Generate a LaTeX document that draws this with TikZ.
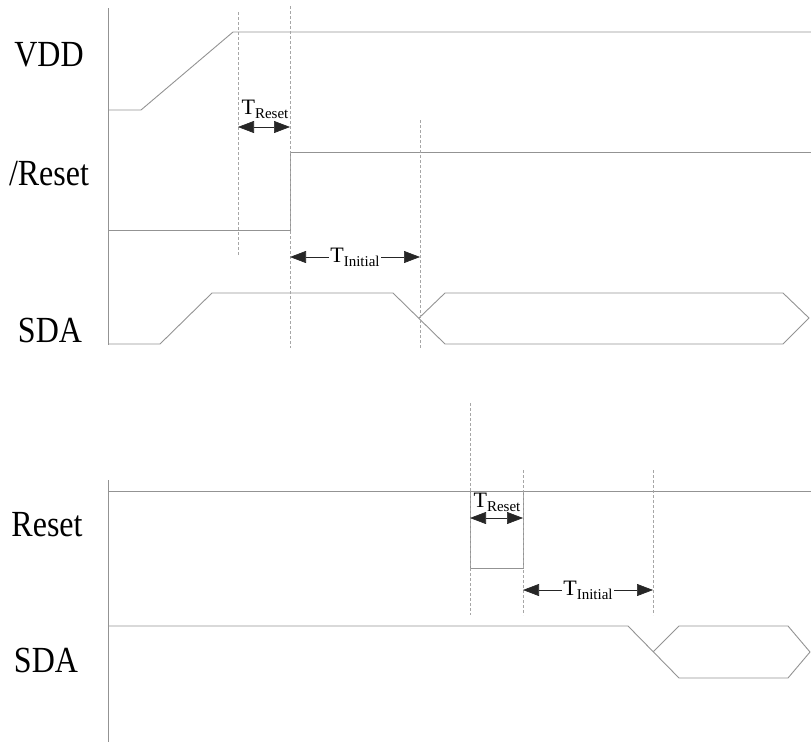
\documentclass[tikz,border=0pt]{standalone}
\usepackage{fontspec}
\setmainfont{Liberation Serif}
\usetikzlibrary{arrows.meta}
\newcommand{\tname}[1]{{\fontsize{22}{22}\selectfont T}\raisebox{-4pt}{\fontsize{15}{15}\selectfont #1}}
\newcommand{\stretchy}[1]{\scalebox{1}[1.15]{#1}}
\begin{document}
\begin{tikzpicture}[x=1pt, y=-1pt,
    sigline/.style={draw=gray!85, line width=0.9pt},
    guide/.style={draw=gray!70, dash pattern=on 3pt off 2pt, line width=0.6pt},
    span/.style={{Triangle[length=16pt,width=12pt]}-{Triangle[length=16pt,width=12pt]}, draw=black!85, line width=0.6pt},
    signame/.style={font=\fontsize{32}{32}\selectfont, inner sep=0pt},
    tlabel/.style={inner sep=1pt}]
    \useasboundingbox (0,0) rectangle (811,742);

    % Axes
    \draw[sigline] (108,8) -- (108,345);
    \draw[sigline] (108,480) -- (108,742);

    % Power-up sequence (VDD, /Reset, SDA)
    \draw[sigline] (108,110) -- (141,110) -- (233,32) -- (811,32);
    \draw[sigline] (108,230) -- (290,230) -- (290,152) -- (811,152);
    \draw[sigline] (108,344) -- (160,344) -- (212,293) -- (393,293) -- (445,344) -- (783,344) -- (809,318) -- (783,293) -- (445,293) -- (419,318);

    % Guides (top)
    \draw[guide] (238,12) -- (238,255);
    \draw[guide] (290,6) -- (290,348);
    \draw[guide] (420,120) -- (420,348);

    % Timing spans (top)
    \coordinate (rsa) at (238,127);
    \coordinate (rsb) at (290,127);
    \draw[span] (rsa) -- (rsb);
    \node[tlabel] (trsa) at (265,109) {\tname{Reset}};
    \coordinate (ina) at (290,257);
    \coordinate (inb) at (420,257);
    \draw[span] (ina) -- (inb) node[midway, tlabel, fill=white] (tina) {\tname{Initial}};

    % Reset pulse sequence (Reset, SDA)
    \draw[sigline] (108,491) -- (811,491);
    \draw[sigline] (470,491) -- (470,568) -- (523,568) -- (523,491);
    \draw[sigline] (108,626) -- (628,626) -- (679,678) -- (788,678) -- (810,652) -- (788,626) -- (679,626) -- (653,652);

    % Guides (bottom)
    \draw[guide] (470,403) -- (470,615);
    \draw[guide] (523,470) -- (523,615);
    \draw[guide] (653,470) -- (653,615);

    % Timing spans (bottom)
    \coordinate (rsc) at (470,518);
    \coordinate (rsd) at (523,518);
    \draw[span] (rsc) -- (rsd);
    \node[tlabel] (trsb) at (497,502) {\tname{Reset}};
    \coordinate (inc) at (523,590);
    \coordinate (ind) at (653,590);
    \draw[span] (inc) -- (ind) node[midway, tlabel, fill=white] (tinb) {\tname{Initial}};

    % Signal names
    \node[signame] (vdd) at (49,55) {\stretchy{VDD}};
    \node[signame] (rstn) at (49,174) {\stretchy{/Reset}};
    \node[signame] (sdaa) at (50,330) {\stretchy{SDA}};
    \node[signame] (rst) at (47,525) {\stretchy{Reset}};
    \node[signame] (sdab) at (46,660) {\stretchy{SDA}};
\end{tikzpicture}
\end{document}
